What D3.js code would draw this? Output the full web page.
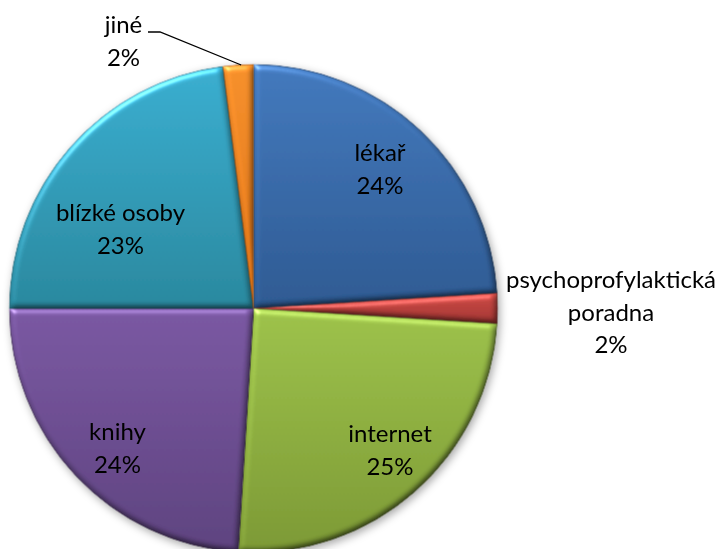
<!DOCTYPE html>
<html>
<head>
<meta charset="utf-8">
<script src="https://cdn.jsdelivr.net/npm/d3@7"></script>
<style>
  html, body { margin: 0; padding: 0; background: #fff; }
  svg { display: block; }
  text { font-family: Lato, "Open Sans", sans-serif; font-size: 24px; fill: #000; }
</style>
</head>
<body>
<svg id="chart" width="723" height="549"></svg>
<script>
// Sources of information (share of respondents, %)
const categories = ["lékař", "psychoprofylaktická poradna", "internet", "knihy", "blízké osoby", "jiné"];
const values = [24, 2, 25, 24, 23, 2];

// Label text lines per slice
const labelLines = [
  ["lékař"],
  ["psychoprofylaktická", "poradna"],
  ["internet"],
  ["knihy"],
  ["blízké osoby"],
  ["jiné"]
];

// Fill colours (light top, dark bottom) per slice
const lightColors = ["#4379bd", "#cc4a45", "#9dc24b", "#7a58a2", "#3aaed0", "#f6902c"];
const darkColors  = ["#2e5a92", "#a33633", "#7c9935", "#5e437f", "#2a889e", "#dd7217"];

// Layout
const cx = 253.5, cy = 308.5, radius = 244;
const labelPos = [
  [380, 161], [611, 288], [390, 442], [117.5, 440], [120.5, 221], [123.5, 33]
];
const lineStep = 32.5;

const svg = d3.select("#chart");
const defs = svg.append("defs");

// Per-slice vertical gradients
categories.forEach((c, i) => {
  const g = defs.append("linearGradient")
    .attr("id", "grad" + i)
    .attr("x1", 0).attr("y1", 0).attr("x2", 0).attr("y2", 1);
  g.append("stop").attr("offset", "0%").attr("stop-color", lightColors[i]);
  g.append("stop").attr("offset", "100%").attr("stop-color", darkColors[i]);
});

// Soft bevel on every slice
const bevel = defs.append("filter").attr("id", "bevel")
  .attr("color-interpolation-filters", "sRGB")
  .attr("x", "-5%").attr("y", "-5%").attr("width", "110%").attr("height", "110%");
bevel.append("feGaussianBlur").attr("in", "SourceAlpha").attr("stdDeviation", 3).attr("result", "blur");
const diff = bevel.append("feDiffuseLighting").attr("in", "blur").attr("surfaceScale", 3)
  .attr("diffuseConstant", 1).attr("lighting-color", "#fff").attr("result", "diff");
diff.append("feDistantLight").attr("azimuth", 240).attr("elevation", 60);
bevel.append("feComposite").attr("in", "SourceGraphic").attr("in2", "diff")
  .attr("operator", "arithmetic").attr("k1", 1.155).attr("k2", 0).attr("k3", 0).attr("k4", 0)
  .attr("result", "shaded");
const spec = bevel.append("feSpecularLighting").attr("in", "blur").attr("surfaceScale", 3)
  .attr("specularConstant", 0.35).attr("specularExponent", 45).attr("lighting-color", "#fff")
  .attr("result", "spec");
spec.append("feDistantLight").attr("azimuth", 240).attr("elevation", 40);
bevel.append("feComposite").attr("in", "spec").attr("in2", "SourceAlpha").attr("operator", "in").attr("result", "specIn");
bevel.append("feComposite").attr("in", "shaded").attr("in2", "specIn")
  .attr("operator", "arithmetic").attr("k1", 0).attr("k2", 1).attr("k3", 1).attr("k4", 0)
  .attr("result", "lit");
bevel.append("feComposite").attr("in", "lit").attr("in2", "SourceAlpha").attr("operator", "in");

// Drop shadow under the whole pie
const shadow = defs.append("filter").attr("id", "shadow")
  .attr("x", "-10%").attr("y", "-10%").attr("width", "120%").attr("height", "120%");
shadow.append("feDropShadow").attr("dx", 2).attr("dy", 3).attr("stdDeviation", 4)
  .attr("flood-color", "#000").attr("flood-opacity", 0.35);

const pie = d3.pie().sort(null).value(d => d)(values);
const arc = d3.arc().innerRadius(0).outerRadius(radius);

const pieG = svg.append("g")
  .attr("transform", `translate(${cx},${cy})`)
  .attr("filter", "url(#shadow)");

pieG.selectAll("path.slice")
  .data(pie)
  .join("path")
  .attr("class", "slice")
  .attr("d", arc)
  .attr("fill", (d, i) => `url(#grad${i})`)
  .attr("stroke", (d, i) => d3.color(darkColors[i]).darker(0.8))
  .attr("stroke-width", 0.8)
  .attr("filter", "url(#bevel)");

// Leader line for the small "jiné" slice
const jine = pie[5];
const midA = (jine.startAngle + jine.endAngle) / 2;
const edgeX = cx + Math.sin(midA) * radius;
const edgeY = cy - Math.cos(midA) * radius;
const jp = labelPos[5];
svg.append("polyline")
  .attr("points", `${jp[0] + 24.5},${jp[1] - 1} ${jp[0] + 36.5},${jp[1] - 1} ${edgeX + 3},${edgeY}`)
  .attr("fill", "none")
  .attr("stroke", "#000")
  .attr("stroke-width", 1.3);

// Labels: category name(s) then the percentage
const labels = svg.selectAll("text.lbl")
  .data(pie)
  .join("text")
  .attr("class", "lbl")
  .attr("text-anchor", "middle")
  .attr("x", (d, i) => labelPos[i][0])
  .attr("y", (d, i) => labelPos[i][1]);

labels.each(function(d, i) {
  const t = d3.select(this);
  const lines = labelLines[i].concat([d.data + "%"]);
  lines.forEach((ln, k) => {
    t.append("tspan")
      .attr("x", labelPos[i][0])
      .attr("y", labelPos[i][1] + k * lineStep)
      .text(ln);
  });
});
</script>
</body>
</html>
